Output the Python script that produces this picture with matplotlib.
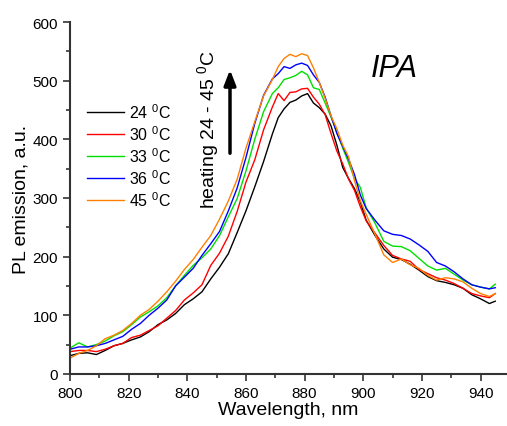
import matplotlib
matplotlib.use("Agg")
import matplotlib.pyplot as plt

plt.rcParams['font.family'] = ['Liberation Sans', 'DejaVu Sans']
plt.rcParams['mathtext.fontset'] = 'custom'
plt.rcParams['mathtext.rm'] = 'Liberation Sans'
plt.rcParams['mathtext.it'] = 'Liberation Sans:italic'

# wavelength grid, nm
wl = [800, 803, 806, 809, 812, 815, 818, 821, 824, 827, 830, 833, 836, 839, 842,
      845, 848, 851, 854, 857, 860, 863, 866, 869, 871, 873, 875, 877, 879, 881,
      883, 885, 887, 889, 891, 893, 895, 897, 899, 901, 904, 907, 910, 913, 916,
      919, 922, 925, 928, 931, 934, 937, 940, 943, 945]

# PL emission, a.u.
pl_24 = [31, 35, 36, 33, 40, 48, 52, 58, 63, 72, 84, 92, 103, 118, 128,
         140, 162, 182, 205, 241, 278, 319, 362, 409, 437, 452, 463, 467, 474, 478,
         462, 454, 443, 423, 390, 352, 333, 316, 293, 262, 236, 213, 199, 195, 187,
         177, 166, 159, 156, 152, 146, 135, 128, 120, 124]
pl_30 = [38, 40, 40, 38, 42, 48, 52, 62, 66, 74, 82, 95, 108, 126, 138,
         152, 185, 206, 235, 277, 327, 365, 416, 455, 478, 466, 480, 481, 486, 487,
         472, 460, 442, 410, 380, 358, 332, 313, 285, 261, 240, 219, 202, 196, 192,
         178, 171, 164, 160, 154, 146, 137, 133, 130, 137]
pl_33 = [44, 53, 46, 50, 56, 65, 72, 84, 97, 106, 116, 130, 150, 168, 185,
         198, 213, 236, 268, 299, 346, 400, 447, 478, 488, 502, 505, 509, 516, 510,
         488, 485, 462, 438, 412, 385, 360, 333, 318, 283, 257, 226, 218, 217, 210,
         197, 184, 177, 180, 170, 160, 152, 148, 145, 153]
pl_36 = [42, 46, 46, 48, 52, 58, 64, 76, 86, 100, 112, 126, 150, 165, 180,
         202, 222, 243, 278, 317, 369, 427, 475, 503, 512, 524, 521, 527, 530, 526,
         510, 497, 472, 440, 410, 388, 366, 340, 305, 282, 262, 244, 238, 236, 230,
         220, 209, 190, 184, 174, 162, 152, 148, 145, 147]
pl_45 = [27, 35, 40, 48, 60, 66, 74, 86, 100, 110, 124, 140, 158, 178, 195,
         216, 236, 264, 295, 332, 385, 430, 474, 502, 524, 538, 545, 541, 546, 543,
         522, 497, 470, 440, 418, 390, 370, 330, 295, 272, 238, 203, 190, 196, 186,
         180, 168, 160, 164, 162, 157, 146, 137, 132, 137]

series = [pl_24, pl_30, pl_33, pl_36, pl_45]
labels = ['24 $^0$C', '30 $^0$C', '33 $^0$C', '36 $^0$C', '45 $^0$C']
colors = ['black', '#ff0000', '#00e000', '#0000ff', '#ff8000']

W, H = 507, 427
fig = plt.figure(figsize=(W / 100, H / 100), dpi=100)
ax = fig.add_axes([0.138, 0.122, 0.862, 0.824])

for y, lab, c in zip(series, labels, colors):
    ax.plot(wl, y, color=c, lw=1.0, label=lab)

ax.set_xlim(800, 949)
ax.set_ylim(0, 600)
ax.set_xticks(range(800, 941, 20))
ax.set_xticks(range(810, 950, 20), minor=True)
ax.set_yticks(range(0, 601, 100))
ax.set_yticks(range(50, 600, 100), minor=True)

for side in ['top', 'right']:
    ax.spines[side].set_visible(False)
for side in ['left', 'bottom']:
    ax.spines[side].set_color('#333333')
    ax.spines[side].set_linewidth(1.5)
ax.tick_params(which='major', length=5, width=1.2, color='#333333', labelsize=11)
ax.tick_params(which='minor', length=3, width=1.2, color='#333333')

ax.set_xlabel('Wavelength, nm', fontsize=14, labelpad=1)
ax.set_ylabel('PL emission, a.u.', fontsize=14, labelpad=2)

leg = ax.legend(loc='upper left', bbox_to_anchor=(0.025, 0.79), frameon=False,
                fontsize=11.5, handlelength=2.3, handletextpad=0.3,
                labelspacing=0.2, borderaxespad=0)

fig.text(208 / W, 1 - 129 / H, 'heating 24 - 45 $^0$C', fontsize=14,
         rotation=90, ha='center', va='center')
ax.annotate('', xy=(230, H - 68), xytext=(230, H - 157),
            xycoords='figure pixels', textcoords='figure pixels',
            arrowprops=dict(arrowstyle='-|>,head_length=0.9,head_width=0.35',
                            lw=2.5, color='black'))
fig.text(394 / W, 1 - 69 / H, 'IPA', fontsize=22, style='italic',
         ha='center', va='center')

fig.savefig('out.png', dpi=100)
